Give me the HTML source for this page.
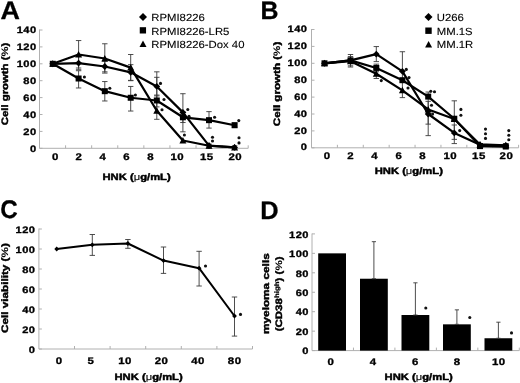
<!DOCTYPE html>
<html><head><meta charset="utf-8"><style>
html,body{margin:0;padding:0;background:#fff;width:520px;height:383px;overflow:hidden;position:relative}
svg text{font-family:"Liberation Sans", sans-serif}
svg{will-change:transform}
</style></head><body>
<svg width="520" height="383" viewBox="0 0 520 383" text-rendering="geometricPrecision" style="position:absolute;left:0;top:0">
<g font-family='"Liberation Sans", sans-serif'>
<text transform="translate(0.50,18.70) scale(1.059,1)" font-size="25.4" font-weight="bold" text-anchor="start" fill="#000" stroke="#000" stroke-width="0.3" stroke-linejoin="round">A</text>
<line x1="39.50" y1="29.50" x2="39.50" y2="148.30" stroke="#b0b0b0" stroke-width="1"/>
<line x1="39.50" y1="148.30" x2="42.50" y2="148.30" stroke="#b0b0b0" stroke-width="1"/>
<text transform="translate(36.60,151.65) scale(1.190,1)" font-size="9.3" font-weight="bold" text-anchor="end" fill="#000" stroke="#000" stroke-width="0.32" stroke-linejoin="round" letter-spacing="0.42">0</text>
<line x1="39.50" y1="131.40" x2="42.50" y2="131.40" stroke="#b0b0b0" stroke-width="1"/>
<text transform="translate(36.60,134.75) scale(1.190,1)" font-size="9.3" font-weight="bold" text-anchor="end" fill="#000" stroke="#000" stroke-width="0.32" stroke-linejoin="round" letter-spacing="0.42">20</text>
<line x1="39.50" y1="114.50" x2="42.50" y2="114.50" stroke="#b0b0b0" stroke-width="1"/>
<text transform="translate(36.60,117.85) scale(1.190,1)" font-size="9.3" font-weight="bold" text-anchor="end" fill="#000" stroke="#000" stroke-width="0.32" stroke-linejoin="round" letter-spacing="0.42">40</text>
<line x1="39.50" y1="97.60" x2="42.50" y2="97.60" stroke="#b0b0b0" stroke-width="1"/>
<text transform="translate(36.60,100.95) scale(1.190,1)" font-size="9.3" font-weight="bold" text-anchor="end" fill="#000" stroke="#000" stroke-width="0.32" stroke-linejoin="round" letter-spacing="0.42">60</text>
<line x1="39.50" y1="80.70" x2="42.50" y2="80.70" stroke="#b0b0b0" stroke-width="1"/>
<text transform="translate(36.60,84.05) scale(1.190,1)" font-size="9.3" font-weight="bold" text-anchor="end" fill="#000" stroke="#000" stroke-width="0.32" stroke-linejoin="round" letter-spacing="0.42">80</text>
<line x1="39.50" y1="63.80" x2="42.50" y2="63.80" stroke="#b0b0b0" stroke-width="1"/>
<text transform="translate(36.60,67.15) scale(1.190,1)" font-size="9.3" font-weight="bold" text-anchor="end" fill="#000" stroke="#000" stroke-width="0.32" stroke-linejoin="round" letter-spacing="0.42">100</text>
<line x1="39.50" y1="46.90" x2="42.50" y2="46.90" stroke="#b0b0b0" stroke-width="1"/>
<text transform="translate(36.60,50.25) scale(1.190,1)" font-size="9.3" font-weight="bold" text-anchor="end" fill="#000" stroke="#000" stroke-width="0.32" stroke-linejoin="round" letter-spacing="0.42">120</text>
<line x1="39.50" y1="30.00" x2="42.50" y2="30.00" stroke="#b0b0b0" stroke-width="1"/>
<text transform="translate(36.60,33.35) scale(1.190,1)" font-size="9.3" font-weight="bold" text-anchor="end" fill="#000" stroke="#000" stroke-width="0.32" stroke-linejoin="round" letter-spacing="0.42">140</text>
<line x1="39.50" y1="148.30" x2="248.20" y2="148.30" stroke="#b0b0b0" stroke-width="1"/>
<line x1="65.59" y1="148.30" x2="65.59" y2="145.30" stroke="#b0b0b0" stroke-width="1"/>
<line x1="91.67" y1="148.30" x2="91.67" y2="145.30" stroke="#b0b0b0" stroke-width="1"/>
<line x1="117.76" y1="148.30" x2="117.76" y2="145.30" stroke="#b0b0b0" stroke-width="1"/>
<line x1="143.85" y1="148.30" x2="143.85" y2="145.30" stroke="#b0b0b0" stroke-width="1"/>
<line x1="169.94" y1="148.30" x2="169.94" y2="145.30" stroke="#b0b0b0" stroke-width="1"/>
<line x1="196.02" y1="148.30" x2="196.02" y2="145.30" stroke="#b0b0b0" stroke-width="1"/>
<line x1="222.11" y1="148.30" x2="222.11" y2="145.30" stroke="#b0b0b0" stroke-width="1"/>
<line x1="248.20" y1="148.30" x2="248.20" y2="145.30" stroke="#b0b0b0" stroke-width="1"/>
<text transform="translate(55.45,159.80) scale(1.190,1)" font-size="9.6" font-weight="bold" text-anchor="middle" fill="#000" stroke="#000" stroke-width="0.32" stroke-linejoin="round" letter-spacing="0.42">0</text>
<text transform="translate(78.85,159.80) scale(1.190,1)" font-size="9.6" font-weight="bold" text-anchor="middle" fill="#000" stroke="#000" stroke-width="0.32" stroke-linejoin="round" letter-spacing="0.42">2</text>
<text transform="translate(102.85,159.80) scale(1.190,1)" font-size="9.6" font-weight="bold" text-anchor="middle" fill="#000" stroke="#000" stroke-width="0.32" stroke-linejoin="round" letter-spacing="0.42">4</text>
<text transform="translate(126.65,159.80) scale(1.190,1)" font-size="9.6" font-weight="bold" text-anchor="middle" fill="#000" stroke="#000" stroke-width="0.32" stroke-linejoin="round" letter-spacing="0.42">6</text>
<text transform="translate(150.55,159.80) scale(1.190,1)" font-size="9.6" font-weight="bold" text-anchor="middle" fill="#000" stroke="#000" stroke-width="0.32" stroke-linejoin="round" letter-spacing="0.42">8</text>
<text transform="translate(177.25,159.80) scale(1.190,1)" font-size="9.6" font-weight="bold" text-anchor="middle" fill="#000" stroke="#000" stroke-width="0.32" stroke-linejoin="round" letter-spacing="0.42">10</text>
<text transform="translate(206.85,159.80) scale(1.190,1)" font-size="9.6" font-weight="bold" text-anchor="middle" fill="#000" stroke="#000" stroke-width="0.32" stroke-linejoin="round" letter-spacing="0.42">15</text>
<text transform="translate(235.25,159.80) scale(1.190,1)" font-size="9.6" font-weight="bold" text-anchor="middle" fill="#000" stroke="#000" stroke-width="0.32" stroke-linejoin="round" letter-spacing="0.42">20</text>
<text transform="translate(7.80,83.95) rotate(-90) scale(1.220,1)" font-size="9.3" font-weight="bold" text-anchor="middle" fill="#000" stroke="#000" stroke-width="0.45" stroke-linejoin="round">Cell growth (<tspan stroke-width="0.1">%</tspan>)</text>
<text transform="translate(136.60,179.70) scale(1.208,1)" font-size="9.3" font-weight="bold" text-anchor="middle" fill="#000" stroke="#000" stroke-width="0.45" stroke-linejoin="round">HNK (<tspan font-weight="normal" stroke-width="0.1">&#956;</tspan>g/mL)</text>
<path d="M143.00,12.90 L147.00,16.90 L143.00,20.90 L139.00,16.90Z" fill="#000"/>
<text transform="translate(151.30,20.70) scale(1.100,1)" font-size="10.3" font-weight="normal" text-anchor="start" fill="#000" stroke="#000" stroke-width="0.12" stroke-linejoin="round">RPMI8226</text>
<rect x="139.75" y="27.20" width="6.30" height="6.30" fill="#000"/>
<text transform="translate(151.30,34.60) scale(1.100,1)" font-size="10.3" font-weight="normal" text-anchor="start" fill="#000" stroke="#000" stroke-width="0.12" stroke-linejoin="round">RPMI8226-LR5</text>
<path d="M143.00,40.60 L146.50,47.08 L139.50,47.08Z" fill="#000"/>
<text transform="translate(151.30,48.30) scale(1.100,1)" font-size="10.3" font-weight="normal" text-anchor="start" fill="#000" stroke="#000" stroke-width="0.12" stroke-linejoin="round">RPMI8226-Dox 40</text>
<line x1="78.60" y1="56.20" x2="78.60" y2="69.72" stroke="#3a3a3a" stroke-width="0.9"/>
<line x1="75.90" y1="56.20" x2="81.30" y2="56.20" stroke="#3a3a3a" stroke-width="0.9"/>
<line x1="75.90" y1="69.72" x2="81.30" y2="69.72" stroke="#3a3a3a" stroke-width="0.9"/>
<line x1="104.80" y1="61.27" x2="104.80" y2="71.83" stroke="#3a3a3a" stroke-width="0.9"/>
<line x1="102.10" y1="61.27" x2="107.50" y2="61.27" stroke="#3a3a3a" stroke-width="0.9"/>
<line x1="102.10" y1="71.83" x2="107.50" y2="71.83" stroke="#3a3a3a" stroke-width="0.9"/>
<line x1="130.70" y1="64.65" x2="130.70" y2="80.36" stroke="#3a3a3a" stroke-width="0.9"/>
<line x1="128.00" y1="64.65" x2="133.40" y2="64.65" stroke="#3a3a3a" stroke-width="0.9"/>
<line x1="128.00" y1="80.36" x2="133.40" y2="80.36" stroke="#3a3a3a" stroke-width="0.9"/>
<line x1="156.80" y1="77.32" x2="156.80" y2="95.91" stroke="#3a3a3a" stroke-width="0.9"/>
<line x1="154.10" y1="77.32" x2="159.50" y2="77.32" stroke="#3a3a3a" stroke-width="0.9"/>
<line x1="154.10" y1="95.91" x2="159.50" y2="95.91" stroke="#3a3a3a" stroke-width="0.9"/>
<line x1="78.60" y1="70.73" x2="78.60" y2="87.97" stroke="#3a3a3a" stroke-width="0.9"/>
<line x1="75.90" y1="70.73" x2="81.30" y2="70.73" stroke="#3a3a3a" stroke-width="0.9"/>
<line x1="75.90" y1="87.97" x2="81.30" y2="87.97" stroke="#3a3a3a" stroke-width="0.9"/>
<line x1="104.80" y1="81.55" x2="104.80" y2="100.98" stroke="#3a3a3a" stroke-width="0.9"/>
<line x1="102.10" y1="81.55" x2="107.50" y2="81.55" stroke="#3a3a3a" stroke-width="0.9"/>
<line x1="102.10" y1="100.98" x2="107.50" y2="100.98" stroke="#3a3a3a" stroke-width="0.9"/>
<line x1="130.70" y1="86.45" x2="130.70" y2="111.04" stroke="#3a3a3a" stroke-width="0.9"/>
<line x1="128.00" y1="86.45" x2="133.40" y2="86.45" stroke="#3a3a3a" stroke-width="0.9"/>
<line x1="128.00" y1="111.04" x2="133.40" y2="111.04" stroke="#3a3a3a" stroke-width="0.9"/>
<line x1="156.80" y1="95.07" x2="156.80" y2="106.90" stroke="#3a3a3a" stroke-width="0.9"/>
<line x1="154.10" y1="95.07" x2="159.50" y2="95.07" stroke="#3a3a3a" stroke-width="0.9"/>
<line x1="154.10" y1="106.90" x2="159.50" y2="106.90" stroke="#3a3a3a" stroke-width="0.9"/>
<line x1="182.90" y1="111.97" x2="182.90" y2="122.53" stroke="#3a3a3a" stroke-width="0.9"/>
<line x1="180.20" y1="111.97" x2="185.60" y2="111.97" stroke="#3a3a3a" stroke-width="0.9"/>
<line x1="180.20" y1="122.53" x2="185.60" y2="122.53" stroke="#3a3a3a" stroke-width="0.9"/>
<line x1="209.00" y1="111.63" x2="209.00" y2="128.10" stroke="#3a3a3a" stroke-width="0.9"/>
<line x1="206.30" y1="111.63" x2="211.70" y2="111.63" stroke="#3a3a3a" stroke-width="0.9"/>
<line x1="206.30" y1="128.10" x2="211.70" y2="128.10" stroke="#3a3a3a" stroke-width="0.9"/>
<line x1="234.60" y1="122.95" x2="234.60" y2="127.18" stroke="#3a3a3a" stroke-width="0.9"/>
<line x1="231.90" y1="122.95" x2="237.30" y2="122.95" stroke="#3a3a3a" stroke-width="0.9"/>
<line x1="231.90" y1="127.18" x2="237.30" y2="127.18" stroke="#3a3a3a" stroke-width="0.9"/>
<line x1="78.60" y1="40.56" x2="78.60" y2="68.03" stroke="#3a3a3a" stroke-width="0.9"/>
<line x1="75.90" y1="40.56" x2="81.30" y2="40.56" stroke="#3a3a3a" stroke-width="0.9"/>
<line x1="75.90" y1="68.03" x2="81.30" y2="68.03" stroke="#3a3a3a" stroke-width="0.9"/>
<line x1="104.80" y1="43.77" x2="104.80" y2="73.10" stroke="#3a3a3a" stroke-width="0.9"/>
<line x1="102.10" y1="43.77" x2="107.50" y2="43.77" stroke="#3a3a3a" stroke-width="0.9"/>
<line x1="102.10" y1="73.10" x2="107.50" y2="73.10" stroke="#3a3a3a" stroke-width="0.9"/>
<line x1="130.70" y1="54.51" x2="130.70" y2="80.70" stroke="#3a3a3a" stroke-width="0.9"/>
<line x1="128.00" y1="54.51" x2="133.40" y2="54.51" stroke="#3a3a3a" stroke-width="0.9"/>
<line x1="128.00" y1="80.70" x2="133.40" y2="80.70" stroke="#3a3a3a" stroke-width="0.9"/>
<line x1="156.80" y1="71.83" x2="156.80" y2="119.32" stroke="#3a3a3a" stroke-width="0.9"/>
<line x1="154.10" y1="71.83" x2="159.50" y2="71.83" stroke="#3a3a3a" stroke-width="0.9"/>
<line x1="154.10" y1="119.32" x2="159.50" y2="119.32" stroke="#3a3a3a" stroke-width="0.9"/>
<line x1="182.90" y1="93.71" x2="182.90" y2="131.82" stroke="#3a3a3a" stroke-width="0.9"/>
<line x1="180.20" y1="93.71" x2="185.60" y2="93.71" stroke="#3a3a3a" stroke-width="0.9"/>
<line x1="180.20" y1="131.82" x2="185.60" y2="131.82" stroke="#3a3a3a" stroke-width="0.9"/>
<line x1="209.00" y1="144.08" x2="209.00" y2="148.30" stroke="#3a3a3a" stroke-width="0.9"/>
<line x1="206.30" y1="144.08" x2="211.70" y2="144.08" stroke="#3a3a3a" stroke-width="0.9"/>
<line x1="206.30" y1="148.30" x2="211.70" y2="148.30" stroke="#3a3a3a" stroke-width="0.9"/>
<line x1="234.60" y1="145.77" x2="234.60" y2="148.30" stroke="#3a3a3a" stroke-width="0.9"/>
<line x1="231.90" y1="145.77" x2="237.30" y2="145.77" stroke="#3a3a3a" stroke-width="0.9"/>
<line x1="231.90" y1="148.30" x2="237.30" y2="148.30" stroke="#3a3a3a" stroke-width="0.9"/>
<polyline points="52.80,63.80 78.60,63.04 104.80,66.50 130.70,72.33 156.80,86.45 182.90,112.39 209.00,145.60 234.60,147.46" fill="none" stroke="#000" stroke-width="2.2" stroke-linejoin="round"/>
<polyline points="52.80,63.80 78.60,78.50 104.80,91.18 130.70,97.77 156.80,100.47 182.90,117.29 209.00,120.16 234.60,125.23" fill="none" stroke="#000" stroke-width="2.2" stroke-linejoin="round"/>
<polyline points="52.80,63.80 78.60,54.51 104.80,58.48 130.70,67.60 156.80,110.70 182.90,140.53 209.00,145.77 234.60,147.46" fill="none" stroke="#000" stroke-width="2.2" stroke-linejoin="round"/>
<path d="M52.80,60.40 L56.20,63.80 L52.80,67.20 L49.40,63.80Z" fill="#000"/>
<rect x="49.80" y="60.80" width="6.00" height="6.00" fill="#000"/>
<path d="M52.80,60.30 L56.30,66.78 L49.30,66.78Z" fill="#000"/>
<path d="M78.60,59.64 L82.00,63.04 L78.60,66.44 L75.20,63.04Z" fill="#000"/>
<rect x="75.60" y="75.50" width="6.00" height="6.00" fill="#000"/>
<path d="M78.60,51.01 L82.10,57.48 L75.10,57.48Z" fill="#000"/>
<path d="M104.80,63.10 L108.20,66.50 L104.80,69.90 L101.40,66.50Z" fill="#000"/>
<rect x="101.80" y="88.18" width="6.00" height="6.00" fill="#000"/>
<path d="M104.80,54.98 L108.30,61.45 L101.30,61.45Z" fill="#000"/>
<path d="M130.70,68.93 L134.10,72.33 L130.70,75.73 L127.30,72.33Z" fill="#000"/>
<rect x="127.70" y="94.77" width="6.00" height="6.00" fill="#000"/>
<path d="M130.70,64.10 L134.20,70.58 L127.20,70.58Z" fill="#000"/>
<path d="M156.80,83.05 L160.20,86.45 L156.80,89.85 L153.40,86.45Z" fill="#000"/>
<rect x="153.80" y="97.47" width="6.00" height="6.00" fill="#000"/>
<path d="M156.80,107.20 L160.30,113.67 L153.30,113.67Z" fill="#000"/>
<path d="M182.90,108.99 L186.30,112.39 L182.90,115.79 L179.50,112.39Z" fill="#000"/>
<rect x="179.90" y="114.29" width="6.00" height="6.00" fill="#000"/>
<path d="M182.90,137.03 L186.40,143.50 L179.40,143.50Z" fill="#000"/>
<path d="M209.00,142.20 L212.40,145.60 L209.00,149.00 L205.60,145.60Z" fill="#000"/>
<rect x="206.00" y="117.16" width="6.00" height="6.00" fill="#000"/>
<path d="M209.00,142.27 L212.50,148.74 L205.50,148.74Z" fill="#000"/>
<path d="M234.60,144.06 L238.00,147.46 L234.60,150.86 L231.20,147.46Z" fill="#000"/>
<rect x="231.60" y="122.23" width="6.00" height="6.00" fill="#000"/>
<path d="M234.60,143.96 L238.10,150.43 L231.10,150.43Z" fill="#000"/>
<circle cx="84.40" cy="77.00" r="1.55" fill="#111"/>
<circle cx="109.80" cy="88.30" r="1.55" fill="#111"/>
<circle cx="135.40" cy="95.00" r="1.55" fill="#111"/>
<circle cx="160.50" cy="83.40" r="1.55" fill="#111"/>
<circle cx="164.00" cy="99.50" r="1.55" fill="#111"/>
<circle cx="162.00" cy="109.70" r="1.55" fill="#111"/>
<circle cx="187.80" cy="109.50" r="1.55" fill="#111"/>
<circle cx="189.00" cy="116.30" r="1.55" fill="#111"/>
<circle cx="184.40" cy="135.00" r="1.55" fill="#111"/>
<circle cx="214.60" cy="117.30" r="1.55" fill="#111"/>
<circle cx="212.50" cy="137.30" r="1.55" fill="#111"/>
<circle cx="212.50" cy="141.00" r="1.55" fill="#111"/>
<circle cx="238.80" cy="120.60" r="1.55" fill="#111"/>
<circle cx="239.00" cy="137.70" r="1.55" fill="#111"/>
<circle cx="239.00" cy="142.90" r="1.55" fill="#111"/>
<text transform="translate(260.40,18.70) scale(0.980,1)" font-size="25.4" font-weight="bold" text-anchor="start" fill="#000" stroke="#000" stroke-width="0.3" stroke-linejoin="round">B</text>
<line x1="311.50" y1="29.00" x2="311.50" y2="147.80" stroke="#b0b0b0" stroke-width="1"/>
<line x1="311.50" y1="147.80" x2="314.50" y2="147.80" stroke="#b0b0b0" stroke-width="1"/>
<text transform="translate(307.50,150.45) scale(1.190,1)" font-size="9.3" font-weight="bold" text-anchor="end" fill="#000" stroke="#000" stroke-width="0.32" stroke-linejoin="round" letter-spacing="0.42">0</text>
<line x1="311.50" y1="130.90" x2="314.50" y2="130.90" stroke="#b0b0b0" stroke-width="1"/>
<text transform="translate(307.50,133.55) scale(1.190,1)" font-size="9.3" font-weight="bold" text-anchor="end" fill="#000" stroke="#000" stroke-width="0.32" stroke-linejoin="round" letter-spacing="0.42">20</text>
<line x1="311.50" y1="114.00" x2="314.50" y2="114.00" stroke="#b0b0b0" stroke-width="1"/>
<text transform="translate(307.50,116.65) scale(1.190,1)" font-size="9.3" font-weight="bold" text-anchor="end" fill="#000" stroke="#000" stroke-width="0.32" stroke-linejoin="round" letter-spacing="0.42">40</text>
<line x1="311.50" y1="97.10" x2="314.50" y2="97.10" stroke="#b0b0b0" stroke-width="1"/>
<text transform="translate(307.50,99.75) scale(1.190,1)" font-size="9.3" font-weight="bold" text-anchor="end" fill="#000" stroke="#000" stroke-width="0.32" stroke-linejoin="round" letter-spacing="0.42">60</text>
<line x1="311.50" y1="80.20" x2="314.50" y2="80.20" stroke="#b0b0b0" stroke-width="1"/>
<text transform="translate(307.50,82.85) scale(1.190,1)" font-size="9.3" font-weight="bold" text-anchor="end" fill="#000" stroke="#000" stroke-width="0.32" stroke-linejoin="round" letter-spacing="0.42">80</text>
<line x1="311.50" y1="63.30" x2="314.50" y2="63.30" stroke="#b0b0b0" stroke-width="1"/>
<text transform="translate(307.50,65.95) scale(1.190,1)" font-size="9.3" font-weight="bold" text-anchor="end" fill="#000" stroke="#000" stroke-width="0.32" stroke-linejoin="round" letter-spacing="0.42">100</text>
<line x1="311.50" y1="46.40" x2="314.50" y2="46.40" stroke="#b0b0b0" stroke-width="1"/>
<text transform="translate(307.50,49.05) scale(1.190,1)" font-size="9.3" font-weight="bold" text-anchor="end" fill="#000" stroke="#000" stroke-width="0.32" stroke-linejoin="round" letter-spacing="0.42">120</text>
<line x1="311.50" y1="29.50" x2="314.50" y2="29.50" stroke="#b0b0b0" stroke-width="1"/>
<text transform="translate(307.50,32.15) scale(1.190,1)" font-size="9.3" font-weight="bold" text-anchor="end" fill="#000" stroke="#000" stroke-width="0.32" stroke-linejoin="round" letter-spacing="0.42">140</text>
<line x1="311.50" y1="147.80" x2="518.60" y2="147.80" stroke="#b0b0b0" stroke-width="1"/>
<line x1="337.39" y1="147.80" x2="337.39" y2="144.80" stroke="#b0b0b0" stroke-width="1"/>
<line x1="363.27" y1="147.80" x2="363.27" y2="144.80" stroke="#b0b0b0" stroke-width="1"/>
<line x1="389.16" y1="147.80" x2="389.16" y2="144.80" stroke="#b0b0b0" stroke-width="1"/>
<line x1="415.05" y1="147.80" x2="415.05" y2="144.80" stroke="#b0b0b0" stroke-width="1"/>
<line x1="440.94" y1="147.80" x2="440.94" y2="144.80" stroke="#b0b0b0" stroke-width="1"/>
<line x1="466.83" y1="147.80" x2="466.83" y2="144.80" stroke="#b0b0b0" stroke-width="1"/>
<line x1="492.71" y1="147.80" x2="492.71" y2="144.80" stroke="#b0b0b0" stroke-width="1"/>
<line x1="518.60" y1="147.80" x2="518.60" y2="144.80" stroke="#b0b0b0" stroke-width="1"/>
<text transform="translate(327.25,158.60) scale(1.190,1)" font-size="9.6" font-weight="bold" text-anchor="middle" fill="#000" stroke="#000" stroke-width="0.32" stroke-linejoin="round" letter-spacing="0.42">0</text>
<text transform="translate(350.75,158.60) scale(1.190,1)" font-size="9.6" font-weight="bold" text-anchor="middle" fill="#000" stroke="#000" stroke-width="0.32" stroke-linejoin="round" letter-spacing="0.42">2</text>
<text transform="translate(374.75,158.60) scale(1.190,1)" font-size="9.6" font-weight="bold" text-anchor="middle" fill="#000" stroke="#000" stroke-width="0.32" stroke-linejoin="round" letter-spacing="0.42">4</text>
<text transform="translate(398.85,158.60) scale(1.190,1)" font-size="9.6" font-weight="bold" text-anchor="middle" fill="#000" stroke="#000" stroke-width="0.32" stroke-linejoin="round" letter-spacing="0.42">6</text>
<text transform="translate(422.65,158.60) scale(1.190,1)" font-size="9.6" font-weight="bold" text-anchor="middle" fill="#000" stroke="#000" stroke-width="0.32" stroke-linejoin="round" letter-spacing="0.42">8</text>
<text transform="translate(450.25,158.60) scale(1.190,1)" font-size="9.6" font-weight="bold" text-anchor="middle" fill="#000" stroke="#000" stroke-width="0.32" stroke-linejoin="round" letter-spacing="0.42">10</text>
<text transform="translate(478.95,158.60) scale(1.190,1)" font-size="9.6" font-weight="bold" text-anchor="middle" fill="#000" stroke="#000" stroke-width="0.32" stroke-linejoin="round" letter-spacing="0.42">15</text>
<text transform="translate(506.45,158.60) scale(1.190,1)" font-size="9.6" font-weight="bold" text-anchor="middle" fill="#000" stroke="#000" stroke-width="0.32" stroke-linejoin="round" letter-spacing="0.42">20</text>
<text transform="translate(279.50,83.90) rotate(-90) scale(1.248,1)" font-size="9.3" font-weight="bold" text-anchor="middle" fill="#000" stroke="#000" stroke-width="0.45" stroke-linejoin="round">Cell growth (<tspan stroke-width="0.1">%</tspan>)</text>
<text transform="translate(408.80,174.20) scale(1.208,1)" font-size="9.3" font-weight="bold" text-anchor="middle" fill="#000" stroke="#000" stroke-width="0.45" stroke-linejoin="round">HNK (<tspan font-weight="normal" stroke-width="0.1">&#956;</tspan>g/mL)</text>
<path d="M428.50,13.00 L432.50,17.00 L428.50,21.00 L424.50,17.00Z" fill="#000"/>
<text transform="translate(436.80,20.70) scale(1.100,1)" font-size="10.3" font-weight="normal" text-anchor="start" fill="#000" stroke="#000" stroke-width="0.12" stroke-linejoin="round">U266</text>
<rect x="425.30" y="27.50" width="6.40" height="6.40" fill="#000"/>
<text transform="translate(436.80,34.60) scale(1.100,1)" font-size="10.3" font-weight="normal" text-anchor="start" fill="#000" stroke="#000" stroke-width="0.12" stroke-linejoin="round">MM.1S</text>
<path d="M428.60,41.10 L432.10,47.58 L425.10,47.58Z" fill="#000"/>
<text transform="translate(436.80,48.30) scale(1.100,1)" font-size="10.3" font-weight="normal" text-anchor="start" fill="#000" stroke="#000" stroke-width="0.12" stroke-linejoin="round">MM.1R</text>
<line x1="350.50" y1="54.51" x2="350.50" y2="67.02" stroke="#3a3a3a" stroke-width="0.9"/>
<line x1="347.80" y1="54.51" x2="353.20" y2="54.51" stroke="#3a3a3a" stroke-width="0.9"/>
<line x1="347.80" y1="67.02" x2="353.20" y2="67.02" stroke="#3a3a3a" stroke-width="0.9"/>
<line x1="350.50" y1="56.54" x2="350.50" y2="65.84" stroke="#3a3a3a" stroke-width="0.9"/>
<line x1="347.80" y1="56.54" x2="353.20" y2="56.54" stroke="#3a3a3a" stroke-width="0.9"/>
<line x1="347.80" y1="65.84" x2="353.20" y2="65.84" stroke="#3a3a3a" stroke-width="0.9"/>
<line x1="376.30" y1="46.57" x2="376.30" y2="61.61" stroke="#3a3a3a" stroke-width="0.9"/>
<line x1="373.60" y1="46.57" x2="379.00" y2="46.57" stroke="#3a3a3a" stroke-width="0.9"/>
<line x1="373.60" y1="61.61" x2="379.00" y2="61.61" stroke="#3a3a3a" stroke-width="0.9"/>
<line x1="376.30" y1="64.15" x2="376.30" y2="71.75" stroke="#3a3a3a" stroke-width="0.9"/>
<line x1="373.60" y1="64.15" x2="379.00" y2="64.15" stroke="#3a3a3a" stroke-width="0.9"/>
<line x1="373.60" y1="71.75" x2="379.00" y2="71.75" stroke="#3a3a3a" stroke-width="0.9"/>
<line x1="376.30" y1="69.22" x2="376.30" y2="78.51" stroke="#3a3a3a" stroke-width="0.9"/>
<line x1="373.60" y1="69.22" x2="379.00" y2="69.22" stroke="#3a3a3a" stroke-width="0.9"/>
<line x1="373.60" y1="78.51" x2="379.00" y2="78.51" stroke="#3a3a3a" stroke-width="0.9"/>
<line x1="402.40" y1="51.72" x2="402.40" y2="97.61" stroke="#3a3a3a" stroke-width="0.9"/>
<line x1="399.70" y1="51.72" x2="405.10" y2="51.72" stroke="#3a3a3a" stroke-width="0.9"/>
<line x1="399.70" y1="97.61" x2="405.10" y2="97.61" stroke="#3a3a3a" stroke-width="0.9"/>
<line x1="428.20" y1="101.33" x2="428.20" y2="135.63" stroke="#3a3a3a" stroke-width="0.9"/>
<line x1="425.50" y1="101.33" x2="430.90" y2="101.33" stroke="#3a3a3a" stroke-width="0.9"/>
<line x1="425.50" y1="135.63" x2="430.90" y2="135.63" stroke="#3a3a3a" stroke-width="0.9"/>
<line x1="428.20" y1="92.03" x2="428.20" y2="124.14" stroke="#3a3a3a" stroke-width="0.9"/>
<line x1="425.50" y1="92.03" x2="430.90" y2="92.03" stroke="#3a3a3a" stroke-width="0.9"/>
<line x1="425.50" y1="124.14" x2="430.90" y2="124.14" stroke="#3a3a3a" stroke-width="0.9"/>
<line x1="454.30" y1="100.82" x2="454.30" y2="143.58" stroke="#3a3a3a" stroke-width="0.9"/>
<line x1="451.60" y1="100.82" x2="457.00" y2="100.82" stroke="#3a3a3a" stroke-width="0.9"/>
<line x1="451.60" y1="143.58" x2="457.00" y2="143.58" stroke="#3a3a3a" stroke-width="0.9"/>
<line x1="454.30" y1="124.99" x2="454.30" y2="139.35" stroke="#3a3a3a" stroke-width="0.9"/>
<line x1="451.60" y1="124.99" x2="457.00" y2="124.99" stroke="#3a3a3a" stroke-width="0.9"/>
<line x1="451.60" y1="139.35" x2="457.00" y2="139.35" stroke="#3a3a3a" stroke-width="0.9"/>
<line x1="480.00" y1="143.58" x2="480.00" y2="146.96" stroke="#3a3a3a" stroke-width="0.9"/>
<line x1="477.30" y1="143.58" x2="482.70" y2="143.58" stroke="#3a3a3a" stroke-width="0.9"/>
<line x1="477.30" y1="146.96" x2="482.70" y2="146.96" stroke="#3a3a3a" stroke-width="0.9"/>
<line x1="505.80" y1="143.58" x2="505.80" y2="146.96" stroke="#3a3a3a" stroke-width="0.9"/>
<line x1="503.10" y1="143.58" x2="508.50" y2="143.58" stroke="#3a3a3a" stroke-width="0.9"/>
<line x1="503.10" y1="146.96" x2="508.50" y2="146.96" stroke="#3a3a3a" stroke-width="0.9"/>
<polyline points="324.50,63.30 350.50,60.34 376.30,54.17 402.40,71.33 428.20,114.00 454.30,132.93 480.00,144.84 505.80,145.69" fill="none" stroke="#000" stroke-width="2.2" stroke-linejoin="round"/>
<polyline points="324.50,63.30 350.50,60.34 376.30,67.95 402.40,80.20 428.20,96.59 454.30,118.73 480.00,146.11 505.80,146.53" fill="none" stroke="#000" stroke-width="2.2" stroke-linejoin="round"/>
<polyline points="324.50,63.30 350.50,61.19 376.30,73.78 402.40,90.34 428.20,109.44 454.30,119.07 480.00,144.42 505.80,145.27" fill="none" stroke="#000" stroke-width="2.2" stroke-linejoin="round"/>
<path d="M324.50,59.90 L327.90,63.30 L324.50,66.70 L321.10,63.30Z" fill="#000"/>
<rect x="321.50" y="60.30" width="6.00" height="6.00" fill="#000"/>
<path d="M324.50,59.80 L328.00,66.28 L321.00,66.28Z" fill="#000"/>
<path d="M350.50,56.94 L353.90,60.34 L350.50,63.74 L347.10,60.34Z" fill="#000"/>
<rect x="347.50" y="57.34" width="6.00" height="6.00" fill="#000"/>
<path d="M350.50,57.69 L354.00,64.16 L347.00,64.16Z" fill="#000"/>
<path d="M376.30,50.77 L379.70,54.17 L376.30,57.57 L372.90,54.17Z" fill="#000"/>
<rect x="373.30" y="64.95" width="6.00" height="6.00" fill="#000"/>
<path d="M376.30,70.28 L379.80,76.75 L372.80,76.75Z" fill="#000"/>
<path d="M402.40,67.93 L405.80,71.33 L402.40,74.73 L399.00,71.33Z" fill="#000"/>
<rect x="399.40" y="77.20" width="6.00" height="6.00" fill="#000"/>
<path d="M402.40,86.84 L405.90,93.31 L398.90,93.31Z" fill="#000"/>
<path d="M428.20,110.60 L431.60,114.00 L428.20,117.40 L424.80,114.00Z" fill="#000"/>
<rect x="425.20" y="93.59" width="6.00" height="6.00" fill="#000"/>
<path d="M428.20,105.94 L431.70,112.41 L424.70,112.41Z" fill="#000"/>
<path d="M454.30,129.53 L457.70,132.93 L454.30,136.33 L450.90,132.93Z" fill="#000"/>
<rect x="451.30" y="115.73" width="6.00" height="6.00" fill="#000"/>
<path d="M454.30,115.57 L457.80,122.05 L450.80,122.05Z" fill="#000"/>
<path d="M480.00,141.44 L483.40,144.84 L480.00,148.24 L476.60,144.84Z" fill="#000"/>
<rect x="477.00" y="143.11" width="6.00" height="6.00" fill="#000"/>
<path d="M480.00,140.92 L483.50,147.40 L476.50,147.40Z" fill="#000"/>
<path d="M505.80,142.29 L509.20,145.69 L505.80,149.09 L502.40,145.69Z" fill="#000"/>
<rect x="502.80" y="143.53" width="6.00" height="6.00" fill="#000"/>
<path d="M505.80,141.77 L509.30,148.24 L502.30,148.24Z" fill="#000"/>
<circle cx="381.30" cy="80.60" r="1.55" fill="#111"/>
<circle cx="406.30" cy="69.40" r="1.55" fill="#111"/>
<circle cx="409.00" cy="77.60" r="1.55" fill="#111"/>
<circle cx="408.00" cy="88.00" r="1.55" fill="#111"/>
<circle cx="430.80" cy="91.30" r="1.55" fill="#111"/>
<circle cx="434.50" cy="91.80" r="1.55" fill="#111"/>
<circle cx="431.50" cy="105.20" r="1.55" fill="#111"/>
<circle cx="432.60" cy="114.10" r="1.55" fill="#111"/>
<circle cx="460.90" cy="109.40" r="1.55" fill="#111"/>
<circle cx="460.90" cy="115.30" r="1.55" fill="#111"/>
<circle cx="459.70" cy="130.60" r="1.55" fill="#111"/>
<circle cx="485.50" cy="129.10" r="1.55" fill="#111"/>
<circle cx="485.50" cy="133.70" r="1.55" fill="#111"/>
<circle cx="485.50" cy="138.40" r="1.55" fill="#111"/>
<circle cx="508.80" cy="130.60" r="1.55" fill="#111"/>
<circle cx="508.80" cy="135.30" r="1.55" fill="#111"/>
<circle cx="508.80" cy="139.80" r="1.55" fill="#111"/>
<text transform="translate(0.30,218.20) scale(0.951,1)" font-size="25.4" font-weight="bold" text-anchor="start" fill="#000" stroke="#000" stroke-width="0.3" stroke-linejoin="round">C</text>
<line x1="38.90" y1="228.50" x2="38.90" y2="349.00" stroke="#b0b0b0" stroke-width="1"/>
<line x1="38.90" y1="349.00" x2="41.90" y2="349.00" stroke="#b0b0b0" stroke-width="1"/>
<text transform="translate(35.50,353.15) scale(1.190,1)" font-size="9.3" font-weight="bold" text-anchor="end" fill="#000" stroke="#000" stroke-width="0.32" stroke-linejoin="round" letter-spacing="0.42">0</text>
<line x1="38.90" y1="329.00" x2="41.90" y2="329.00" stroke="#b0b0b0" stroke-width="1"/>
<text transform="translate(35.50,333.15) scale(1.190,1)" font-size="9.3" font-weight="bold" text-anchor="end" fill="#000" stroke="#000" stroke-width="0.32" stroke-linejoin="round" letter-spacing="0.42">20</text>
<line x1="38.90" y1="309.00" x2="41.90" y2="309.00" stroke="#b0b0b0" stroke-width="1"/>
<text transform="translate(35.50,313.15) scale(1.190,1)" font-size="9.3" font-weight="bold" text-anchor="end" fill="#000" stroke="#000" stroke-width="0.32" stroke-linejoin="round" letter-spacing="0.42">40</text>
<line x1="38.90" y1="289.00" x2="41.90" y2="289.00" stroke="#b0b0b0" stroke-width="1"/>
<text transform="translate(35.50,293.15) scale(1.190,1)" font-size="9.3" font-weight="bold" text-anchor="end" fill="#000" stroke="#000" stroke-width="0.32" stroke-linejoin="round" letter-spacing="0.42">60</text>
<line x1="38.90" y1="269.00" x2="41.90" y2="269.00" stroke="#b0b0b0" stroke-width="1"/>
<text transform="translate(35.50,273.15) scale(1.190,1)" font-size="9.3" font-weight="bold" text-anchor="end" fill="#000" stroke="#000" stroke-width="0.32" stroke-linejoin="round" letter-spacing="0.42">80</text>
<line x1="38.90" y1="249.00" x2="41.90" y2="249.00" stroke="#b0b0b0" stroke-width="1"/>
<text transform="translate(35.50,253.15) scale(1.190,1)" font-size="9.3" font-weight="bold" text-anchor="end" fill="#000" stroke="#000" stroke-width="0.32" stroke-linejoin="round" letter-spacing="0.42">100</text>
<line x1="38.90" y1="229.00" x2="41.90" y2="229.00" stroke="#b0b0b0" stroke-width="1"/>
<text transform="translate(35.50,233.15) scale(1.190,1)" font-size="9.3" font-weight="bold" text-anchor="end" fill="#000" stroke="#000" stroke-width="0.32" stroke-linejoin="round" letter-spacing="0.42">120</text>
<line x1="38.90" y1="349.00" x2="252.50" y2="349.00" stroke="#b0b0b0" stroke-width="1"/>
<line x1="74.50" y1="349.00" x2="74.50" y2="346.00" stroke="#b0b0b0" stroke-width="1"/>
<line x1="110.10" y1="349.00" x2="110.10" y2="346.00" stroke="#b0b0b0" stroke-width="1"/>
<line x1="145.70" y1="349.00" x2="145.70" y2="346.00" stroke="#b0b0b0" stroke-width="1"/>
<line x1="181.30" y1="349.00" x2="181.30" y2="346.00" stroke="#b0b0b0" stroke-width="1"/>
<line x1="216.90" y1="349.00" x2="216.90" y2="346.00" stroke="#b0b0b0" stroke-width="1"/>
<line x1="252.50" y1="349.00" x2="252.50" y2="346.00" stroke="#b0b0b0" stroke-width="1"/>
<text transform="translate(59.15,363.80) scale(1.190,1)" font-size="9.6" font-weight="bold" text-anchor="middle" fill="#000" stroke="#000" stroke-width="0.32" stroke-linejoin="round" letter-spacing="0.42">0</text>
<text transform="translate(90.85,363.80) scale(1.190,1)" font-size="9.6" font-weight="bold" text-anchor="middle" fill="#000" stroke="#000" stroke-width="0.32" stroke-linejoin="round" letter-spacing="0.42">5</text>
<text transform="translate(125.05,363.80) scale(1.190,1)" font-size="9.6" font-weight="bold" text-anchor="middle" fill="#000" stroke="#000" stroke-width="0.32" stroke-linejoin="round" letter-spacing="0.42">10</text>
<text transform="translate(161.55,363.80) scale(1.190,1)" font-size="9.6" font-weight="bold" text-anchor="middle" fill="#000" stroke="#000" stroke-width="0.32" stroke-linejoin="round" letter-spacing="0.42">20</text>
<text transform="translate(198.05,363.80) scale(1.190,1)" font-size="9.6" font-weight="bold" text-anchor="middle" fill="#000" stroke="#000" stroke-width="0.32" stroke-linejoin="round" letter-spacing="0.42">40</text>
<text transform="translate(234.65,363.80) scale(1.190,1)" font-size="9.6" font-weight="bold" text-anchor="middle" fill="#000" stroke="#000" stroke-width="0.32" stroke-linejoin="round" letter-spacing="0.42">80</text>
<text transform="translate(7.70,288.05) rotate(-90) scale(1.259,1)" font-size="9.3" font-weight="bold" text-anchor="middle" fill="#000" stroke="#000" stroke-width="0.45" stroke-linejoin="round">Cell viability (<tspan stroke-width="0.1">%</tspan>)</text>
<text transform="translate(148.60,379.80) scale(1.208,1)" font-size="9.3" font-weight="bold" text-anchor="middle" fill="#000" stroke="#000" stroke-width="0.45" stroke-linejoin="round">HNK (<tspan font-weight="normal" stroke-width="0.1">&#956;</tspan>g/mL)</text>
<line x1="92.30" y1="234.50" x2="92.30" y2="255.40" stroke="#3a3a3a" stroke-width="0.9"/>
<line x1="89.60" y1="234.50" x2="95.00" y2="234.50" stroke="#3a3a3a" stroke-width="0.9"/>
<line x1="89.60" y1="255.40" x2="95.00" y2="255.40" stroke="#3a3a3a" stroke-width="0.9"/>
<line x1="127.90" y1="239.50" x2="127.90" y2="248.30" stroke="#3a3a3a" stroke-width="0.9"/>
<line x1="125.20" y1="239.50" x2="130.60" y2="239.50" stroke="#3a3a3a" stroke-width="0.9"/>
<line x1="125.20" y1="248.30" x2="130.60" y2="248.30" stroke="#3a3a3a" stroke-width="0.9"/>
<line x1="163.50" y1="247.00" x2="163.50" y2="273.40" stroke="#3a3a3a" stroke-width="0.9"/>
<line x1="160.80" y1="247.00" x2="166.20" y2="247.00" stroke="#3a3a3a" stroke-width="0.9"/>
<line x1="160.80" y1="273.40" x2="166.20" y2="273.40" stroke="#3a3a3a" stroke-width="0.9"/>
<line x1="199.10" y1="251.30" x2="199.10" y2="286.00" stroke="#3a3a3a" stroke-width="0.9"/>
<line x1="196.40" y1="251.30" x2="201.80" y2="251.30" stroke="#3a3a3a" stroke-width="0.9"/>
<line x1="196.40" y1="286.00" x2="201.80" y2="286.00" stroke="#3a3a3a" stroke-width="0.9"/>
<line x1="234.50" y1="297.00" x2="234.50" y2="336.10" stroke="#3a3a3a" stroke-width="0.9"/>
<line x1="231.80" y1="297.00" x2="237.20" y2="297.00" stroke="#3a3a3a" stroke-width="0.9"/>
<line x1="231.80" y1="336.10" x2="237.20" y2="336.10" stroke="#3a3a3a" stroke-width="0.9"/>
<polyline points="56.70,249.00 92.30,244.80 127.90,243.50 163.50,260.60 199.10,268.20 234.50,316.00" fill="none" stroke="#000" stroke-width="2.0" stroke-linejoin="round"/>
<path d="M56.70,246.60 L59.10,249.00 L56.70,251.40 L54.30,249.00Z" fill="#000"/>
<path d="M92.30,242.40 L94.70,244.80 L92.30,247.20 L89.90,244.80Z" fill="#000"/>
<path d="M127.90,241.10 L130.30,243.50 L127.90,245.90 L125.50,243.50Z" fill="#000"/>
<path d="M163.50,258.20 L165.90,260.60 L163.50,263.00 L161.10,260.60Z" fill="#000"/>
<path d="M199.10,265.80 L201.50,268.20 L199.10,270.60 L196.70,268.20Z" fill="#000"/>
<path d="M234.50,313.60 L236.90,316.00 L234.50,318.40 L232.10,316.00Z" fill="#000"/>
<circle cx="205.50" cy="266.00" r="1.55" fill="#111"/>
<circle cx="240.50" cy="314.40" r="1.55" fill="#111"/>
<text transform="translate(260.20,218.70)" font-size="25.4" font-weight="bold" text-anchor="start" fill="#000" stroke="#000" stroke-width="0.3" stroke-linejoin="round">D</text>
<line x1="312.00" y1="233.50" x2="312.00" y2="350.60" stroke="#b0b0b0" stroke-width="1"/>
<line x1="312.00" y1="350.60" x2="315.00" y2="350.60" stroke="#b0b0b0" stroke-width="1"/>
<text transform="translate(309.00,354.30) scale(1.190,1)" font-size="9.3" font-weight="bold" text-anchor="end" fill="#000" stroke="#000" stroke-width="0.32" stroke-linejoin="round" letter-spacing="0.42">0</text>
<line x1="312.00" y1="331.15" x2="315.00" y2="331.15" stroke="#b0b0b0" stroke-width="1"/>
<text transform="translate(309.00,334.85) scale(1.190,1)" font-size="9.3" font-weight="bold" text-anchor="end" fill="#000" stroke="#000" stroke-width="0.32" stroke-linejoin="round" letter-spacing="0.42">20</text>
<line x1="312.00" y1="311.70" x2="315.00" y2="311.70" stroke="#b0b0b0" stroke-width="1"/>
<text transform="translate(309.00,315.40) scale(1.190,1)" font-size="9.3" font-weight="bold" text-anchor="end" fill="#000" stroke="#000" stroke-width="0.32" stroke-linejoin="round" letter-spacing="0.42">40</text>
<line x1="312.00" y1="292.25" x2="315.00" y2="292.25" stroke="#b0b0b0" stroke-width="1"/>
<text transform="translate(309.00,295.95) scale(1.190,1)" font-size="9.3" font-weight="bold" text-anchor="end" fill="#000" stroke="#000" stroke-width="0.32" stroke-linejoin="round" letter-spacing="0.42">60</text>
<line x1="312.00" y1="272.80" x2="315.00" y2="272.80" stroke="#b0b0b0" stroke-width="1"/>
<text transform="translate(309.00,276.50) scale(1.190,1)" font-size="9.3" font-weight="bold" text-anchor="end" fill="#000" stroke="#000" stroke-width="0.32" stroke-linejoin="round" letter-spacing="0.42">80</text>
<line x1="312.00" y1="253.35" x2="315.00" y2="253.35" stroke="#b0b0b0" stroke-width="1"/>
<text transform="translate(309.00,257.05) scale(1.190,1)" font-size="9.3" font-weight="bold" text-anchor="end" fill="#000" stroke="#000" stroke-width="0.32" stroke-linejoin="round" letter-spacing="0.42">100</text>
<line x1="312.00" y1="233.90" x2="315.00" y2="233.90" stroke="#b0b0b0" stroke-width="1"/>
<text transform="translate(309.00,237.60) scale(1.190,1)" font-size="9.3" font-weight="bold" text-anchor="end" fill="#000" stroke="#000" stroke-width="0.32" stroke-linejoin="round" letter-spacing="0.42">120</text>
<line x1="312.00" y1="350.60" x2="519.30" y2="350.60" stroke="#b0b0b0" stroke-width="1"/>
<line x1="353.46" y1="350.60" x2="353.46" y2="347.60" stroke="#b0b0b0" stroke-width="1"/>
<line x1="394.92" y1="350.60" x2="394.92" y2="347.60" stroke="#b0b0b0" stroke-width="1"/>
<line x1="436.38" y1="350.60" x2="436.38" y2="347.60" stroke="#b0b0b0" stroke-width="1"/>
<line x1="477.84" y1="350.60" x2="477.84" y2="347.60" stroke="#b0b0b0" stroke-width="1"/>
<line x1="519.30" y1="350.60" x2="519.30" y2="347.60" stroke="#b0b0b0" stroke-width="1"/>
<text transform="translate(330.95,364.70) scale(1.190,1)" font-size="9.6" font-weight="bold" text-anchor="middle" fill="#000" stroke="#000" stroke-width="0.32" stroke-linejoin="round" letter-spacing="0.42">0</text>
<text transform="translate(373.15,364.70) scale(1.190,1)" font-size="9.6" font-weight="bold" text-anchor="middle" fill="#000" stroke="#000" stroke-width="0.32" stroke-linejoin="round" letter-spacing="0.42">4</text>
<text transform="translate(415.45,364.70) scale(1.190,1)" font-size="9.6" font-weight="bold" text-anchor="middle" fill="#000" stroke="#000" stroke-width="0.32" stroke-linejoin="round" letter-spacing="0.42">6</text>
<text transform="translate(457.05,364.70) scale(1.190,1)" font-size="9.6" font-weight="bold" text-anchor="middle" fill="#000" stroke="#000" stroke-width="0.32" stroke-linejoin="round" letter-spacing="0.42">8</text>
<text transform="translate(498.85,364.70) scale(1.190,1)" font-size="9.6" font-weight="bold" text-anchor="middle" fill="#000" stroke="#000" stroke-width="0.32" stroke-linejoin="round" letter-spacing="0.42">10</text>
<text transform="translate(268.60,334.00) rotate(-90) scale(1.270,1)" font-size="9.3" font-weight="bold" text-anchor="start" fill="#000" stroke="#000" stroke-width="0.45" stroke-linejoin="round">myeloma cells</text>
<text transform="translate(281.6,331.3) rotate(-90) scale(1.235,1)" font-size="9.3" font-weight="bold" text-anchor="start" stroke="#000" stroke-width="0.45" stroke-linejoin="round">(CD38<tspan font-size="6.4" dy="-2.6" stroke-width="0.25">high</tspan><tspan dy="2.6">) (<tspan stroke-width="0.1">%</tspan>)</tspan></text>
<text transform="translate(418.70,379.80) scale(1.208,1)" font-size="9.3" font-weight="bold" text-anchor="middle" fill="#000" stroke="#000" stroke-width="0.45" stroke-linejoin="round">HNK (<tspan font-weight="normal" stroke-width="0.1">&#956;</tspan>g/mL)</text>
<rect x="318.20" y="253.35" width="27.8" height="97.25" fill="#000"/>
<rect x="360.00" y="278.73" width="27.8" height="71.87" fill="#000"/>
<line x1="373.90" y1="241.68" x2="373.90" y2="278.73" stroke="#3a3a3a" stroke-width="0.9"/>
<line x1="371.80" y1="241.68" x2="376.00" y2="241.68" stroke="#3a3a3a" stroke-width="0.9"/>
<line x1="371.80" y1="278.73" x2="376.00" y2="278.73" stroke="#3a3a3a" stroke-width="0.9"/>
<rect x="401.50" y="315.01" width="27.8" height="35.59" fill="#000"/>
<line x1="415.40" y1="282.82" x2="415.40" y2="315.01" stroke="#3a3a3a" stroke-width="0.9"/>
<line x1="413.30" y1="282.82" x2="417.50" y2="282.82" stroke="#3a3a3a" stroke-width="0.9"/>
<line x1="413.30" y1="315.01" x2="417.50" y2="315.01" stroke="#3a3a3a" stroke-width="0.9"/>
<rect x="443.00" y="324.34" width="27.8" height="26.26" fill="#000"/>
<line x1="456.90" y1="309.85" x2="456.90" y2="324.34" stroke="#3a3a3a" stroke-width="0.9"/>
<line x1="454.80" y1="309.85" x2="459.00" y2="309.85" stroke="#3a3a3a" stroke-width="0.9"/>
<line x1="454.80" y1="324.34" x2="459.00" y2="324.34" stroke="#3a3a3a" stroke-width="0.9"/>
<rect x="484.50" y="338.25" width="27.8" height="12.35" fill="#000"/>
<line x1="498.40" y1="322.20" x2="498.40" y2="338.25" stroke="#3a3a3a" stroke-width="0.9"/>
<line x1="496.30" y1="322.20" x2="500.50" y2="322.20" stroke="#3a3a3a" stroke-width="0.9"/>
<line x1="496.30" y1="338.25" x2="500.50" y2="338.25" stroke="#3a3a3a" stroke-width="0.9"/>
<circle cx="425.80" cy="308.00" r="1.55" fill="#111"/>
<circle cx="469.80" cy="317.50" r="1.55" fill="#111"/>
<circle cx="511.50" cy="332.90" r="1.55" fill="#111"/>
</g></svg>
</body></html>
